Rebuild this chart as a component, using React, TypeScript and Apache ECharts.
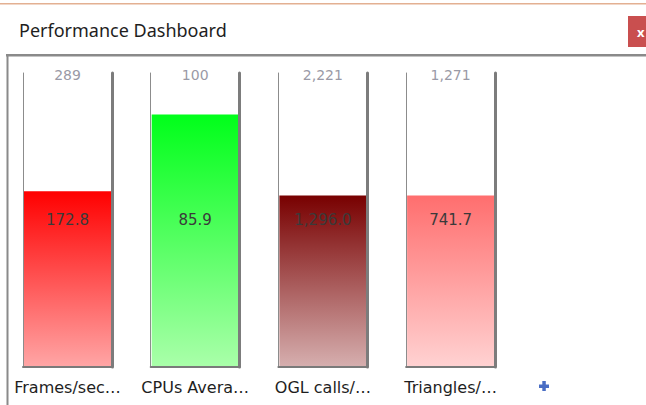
import React, { useEffect, useRef } from "react";
import * as echarts from "echarts";

const categories = ["Frames/sec…", "CPUs Avera…", "OGL calls/…", "Triangles/…"];
const maxValues = [289, 100, 2221, 1271];
const currentValues = [172.8, 85.9, 1296.0, 741.7];
const topColors = ["#ff0000", "#00ff1a", "#780000", "#ff6e6e"];
const bottomColors = ["#ffa6a6", "#aaffaa", "#d6afaf", "#ffd2d2"];

const FONT = "Noto Sans";
const FONT2 = "DejaVu Sans";

export default function App() {
  const ref = useRef<HTMLDivElement>(null);
  useEffect(() => {
    if (!ref.current) return;
    const chart = echarts.init(ref.current, undefined, { renderer: "svg" });
    const gridLeft0 = 23;
    const gridStep = 127.7;
    const gridWidth = 89;
    const grids: any[] = [];
    const xAxes: any[] = [];
    const yAxes: any[] = [];
    const series: any[] = [];
    const fmtMax = (v: number) => v.toLocaleString("en-US");
    const fmtVal = (v: number) =>
      v.toLocaleString("en-US", { minimumFractionDigits: 1, maximumFractionDigits: 1 });

    categories.forEach((cat, i) => {
      grids.push({ left: gridLeft0 + i * gridStep, top: 73, width: gridWidth, bottom: 38 });
      xAxes.push({
        type: "category",
        gridIndex: i,
        data: [cat],
        z: 5,
        axisLine: { show: true, lineStyle: { color: "#7a7a7a", width: 2 } },
        axisTick: { show: false },
        axisLabel: { color: "#1e1e1e", fontSize: 16, margin: 12, fontFamily: FONT2 },
      });
      yAxes.push({
        type: "value",
        gridIndex: i,
        min: 0,
        max: maxValues[i],
        position: "left",
        z: 5,
        axisLine: { show: true, lineStyle: { color: "#8c8c8c", width: 1 } },
        axisTick: { show: false },
        axisLabel: { show: false },
        splitLine: { show: false },
      });
      yAxes.push({
        type: "value",
        gridIndex: i,
        min: 0,
        max: maxValues[i],
        position: "right",
        z: 5,
        axisLine: { show: true, lineStyle: { color: "#7c7c7c", width: 3 } },
        axisTick: { show: false },
        axisLabel: { show: false },
        splitLine: { show: false },
      });
      series.push({
        type: "bar",
        xAxisIndex: i,
        yAxisIndex: 2 * i,
        barWidth: 87,
        data: [currentValues[i]],
        itemStyle: {
          color: new echarts.graphic.LinearGradient(0, 0, 0, 1, [
            { offset: 0, color: topColors[i] },
            { offset: 1, color: bottomColors[i] },
          ]),
        },
        z: 2,
      });
      series.push({
        type: "bar",
        xAxisIndex: i,
        yAxisIndex: 2 * i,
        barWidth: 87,
        barGap: "-100%",
        data: [maxValues[i]],
        itemStyle: { color: "rgba(0,0,0,0)" },
        label: {
          show: true,
          position: "inside",
          formatter: () => fmtVal(currentValues[i]),
          color: "#3a3a3a",
          fontSize: 15,
          fontFamily: FONT2,
        },
        z: 3,
      });
      series.push({
        type: "bar",
        xAxisIndex: i,
        yAxisIndex: 2 * i,
        barWidth: 87,
        barGap: "-100%",
        data: [maxValues[i]],
        itemStyle: { color: "rgba(0,0,0,0)" },
        label: {
          show: true,
          position: ["50%", 2],
          align: "center",
          verticalAlign: "middle",
          formatter: () => fmtMax(maxValues[i]),
          color: "#9a9aa6",
          fontSize: 14,
          fontFamily: FONT2,
        },
        z: 3,
      });
    });

    chart.setOption({
      animation: false,
      backgroundColor: "#ffffff",
      title: {
        text: "Performance Dashboard",
        left: 14,
        top: 16,
        textStyle: { fontSize: 18, fontWeight: "normal", color: "#1e1e1e", fontFamily: FONT },
      },
      grid: grids,
      xAxis: xAxes,
      yAxis: yAxes,
      series,
      graphic: [
        { type: "rect", shape: { x: 0, y: 3, width: 646, height: 1.5 }, style: { fill: "#e3b092" } },
        { type: "rect", shape: { x: 628, y: 16, width: 20, height: 31 }, style: { fill: "#c94f4f" } },
        {
          type: "text",
          x: 637,
          y: 25,
          style: { text: "x", fill: "#ffffff", fontSize: 13, fontWeight: "bold", fontFamily: FONT },
        },
        { type: "rect", shape: { x: 6, y: 54, width: 640, height: 2.5 }, style: { fill: "#8a8a8a" } },
        { type: "rect", shape: { x: 6.5, y: 54, width: 2, height: 351 }, style: { fill: "#8a8a8a" } },
        { type: "rect", shape: { x: 539, y: 384.5, width: 10, height: 3.5 }, style: { fill: "#4a6ec4" } },
        { type: "rect", shape: { x: 542.3, y: 381, width: 3.5, height: 10 }, style: { fill: "#4a6ec4" } },
      ],
    });
    return () => chart.dispose();
  }, []);
  return (
    <div
      ref={ref}
      style={{ position: "absolute", left: 0, top: 0, width: 646, height: 405 }}
    />
  );
}
